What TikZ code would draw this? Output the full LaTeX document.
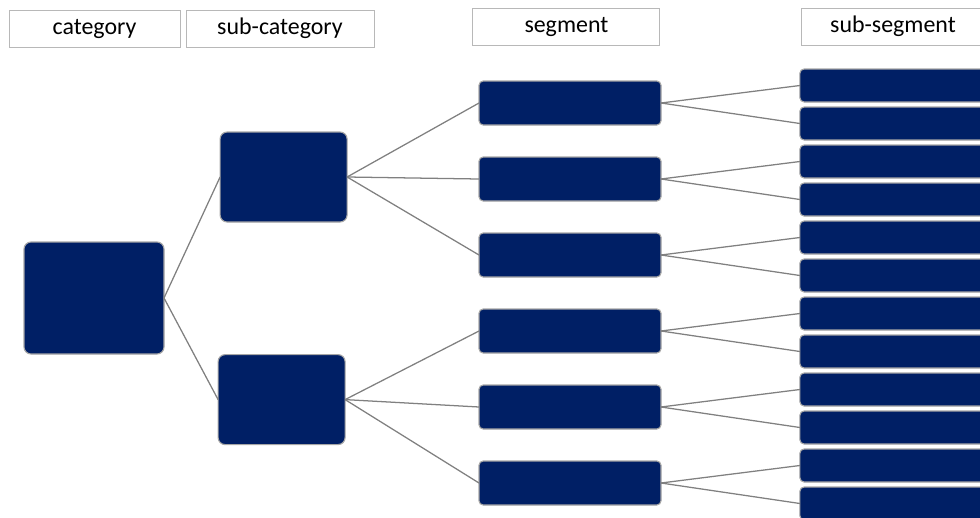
\documentclass[tikz,border=0pt]{standalone}
\usepackage{fontspec}
\setmainfont{Carlito}
\usetikzlibrary{positioning}
\definecolor{navy}{HTML}{001F65}
\definecolor{rim}{HTML}{A6A6A6}
\definecolor{wire}{HTML}{808080}
\begin{document}
\begin{tikzpicture}[
		node distance=0.8cm and 0cm,
		headbox/.style={draw=rim!80,line width=0.6pt,minimum height=0.925cm,inner sep=0pt,font=\fontsize{17}{20}\selectfont},
		catbox/.style={draw=rim,fill=navy,rounded corners=5pt,line width=0.8pt,outer sep=0pt},
		segbox/.style={catbox,minimum width=4.55cm,minimum height=1.1cm,rounded corners=3pt},
		subbox/.style={catbox,minimum width=4.625cm,minimum height=0.825cm,rounded corners=3pt},
		link/.style={draw=wire,line width=0.9pt}
		]
		\useasboundingbox (0,0) rectangle (24.5,-12.925);
		% headers
		\node[headbox,minimum width=4.275cm] (headcat) at (2.3625,-0.7125) {category};
		\node[headbox,minimum width=4.7cm] (headsubcat) at (7.0,-0.7125) {sub-category};
		\node[headbox,minimum width=4.675cm] (headseg) at (14.16,-0.6625) {segment};
		\node[headbox,minimum width=4.6cm] (headsubseg) at (22.325,-0.6625) {sub-segment};
		% tree
		\node[catbox,minimum width=3.5cm,minimum height=2.8cm] (cat) at (2.35,-7.45) {};
		\node[catbox,minimum width=3.175cm,minimum height=2.25cm] (subcatA) at (7.09,-4.425) {};
		\node[catbox,minimum width=3.175cm,minimum height=2.25cm] (subcatB) at (7.04,-9.99) {};
		\node[segbox] (segA) at (14.25,-2.575) {};
		\node[segbox,below=of segA] (segB) {};
		\node[segbox,below=of segB] (segC) {};
		\node[segbox,below=of segC] (segD) {};
		\node[segbox,below=of segD] (segE) {};
		\node[segbox,below=of segE] (segF) {};
		\node[subbox] (subsegA) at (22.31,-2.1375) {};
		\node[subbox,below=0.125cm of subsegA] (subsegB) {};
		\node[subbox,below=0.125cm of subsegB] (subsegC) {};
		\node[subbox,below=0.125cm of subsegC] (subsegD) {};
		\node[subbox,below=0.125cm of subsegD] (subsegE) {};
		\node[subbox,below=0.125cm of subsegE] (subsegF) {};
		\node[subbox,below=0.125cm of subsegF] (subsegG) {};
		\node[subbox,below=0.125cm of subsegG] (subsegH) {};
		\node[subbox,below=0.125cm of subsegH] (subsegI) {};
		\node[subbox,below=0.125cm of subsegI] (subsegJ) {};
		\node[subbox,below=0.125cm of subsegJ] (subsegK) {};
		\node[subbox,below=0.125cm of subsegK] (subsegL) {};
		% links
		\path
		(cat.east) edge[link] (subcatA.west) edge[link] (subcatB.west)
		(subcatA.east) edge[link] (segA.west) edge[link] (segB.west) edge[link] (segC.west)
		(subcatB.east) edge[link] (segD.west) edge[link] (segE.west) edge[link] (segF.west)
		(segA.east) edge[link] (subsegA.west) edge[link] (subsegB.west)
		(segB.east) edge[link] (subsegC.west) edge[link] (subsegD.west)
		(segC.east) edge[link] (subsegE.west) edge[link] (subsegF.west)
		(segD.east) edge[link] (subsegG.west) edge[link] (subsegH.west)
		(segE.east) edge[link] (subsegI.west) edge[link] (subsegJ.west)
		(segF.east) edge[link] (subsegK.west) edge[link] (subsegL.west);
	\end{tikzpicture}
\end{document}
